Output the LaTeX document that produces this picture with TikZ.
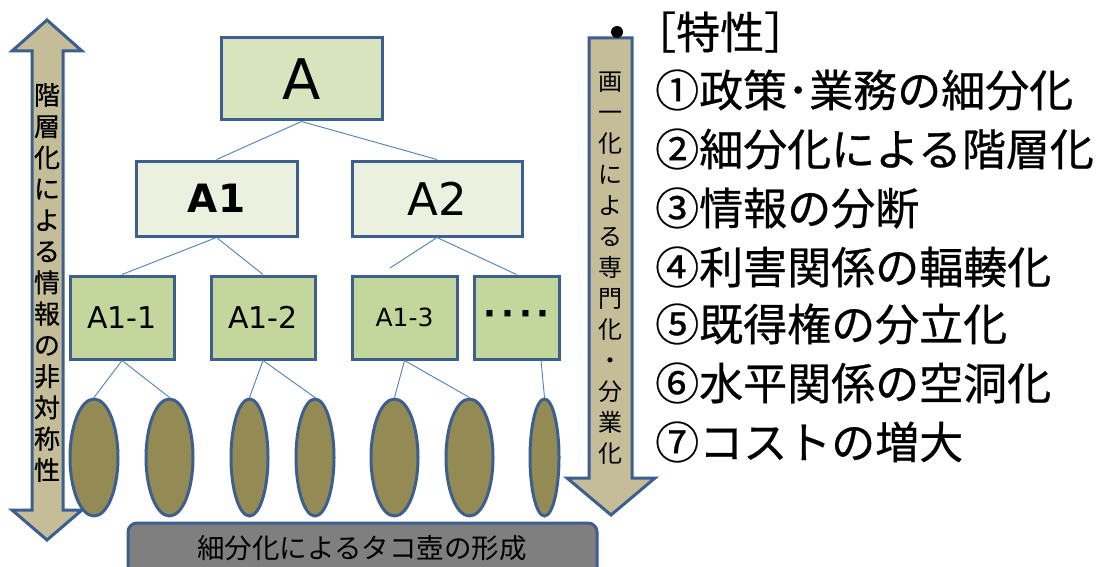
\documentclass[tikz,border=0pt]{standalone}
\usepackage{fontspec}
\setmainfont{DejaVu Sans}
\newfontfamily\jp{Noto Sans CJK JP}
\newfontfamily\jpb[FakeBold=0.6]{Noto Sans CJK JP}
\newfontfamily\lat{DejaVu Sans}
\usetikzlibrary{shapes.geometric,calc}
\definecolor{edgeblue}{HTML}{3D5F8F}
\definecolor{linkblue}{HTML}{4F81BD}
\definecolor{tan}{HTML}{C4BD97}
\definecolor{gA}{HTML}{D7E4BD}
\definecolor{gB}{HTML}{EBF1DE}
\definecolor{gC}{HTML}{C3D69B}
\definecolor{olive}{HTML}{948A54}
\definecolor{greybox}{HTML}{7F7F7F}
\tikzset{
  box/.style={draw=edgeblue, line width=3pt, rectangle, inner sep=0pt, text=black},
  pot/.style={draw=edgeblue, line width=3pt, fill=olive, ellipse, inner sep=0pt, minimum height=117pt},
  link/.style={draw=linkblue, line width=0.9pt},
  arrowshape/.style={draw=edgeblue, line width=3pt, fill=tan, line join=miter},
  vtext/.style={align=center, inner sep=0pt, text=black},
  listitem/.style={anchor=west, inner sep=0pt, font=\jpb\fontsize{44}{44}\selectfont, text=black}
}
\begin{document}
\begin{tikzpicture}[x=1pt,y=-1pt]
\useasboundingbox (0,0) rectangle (1102,567);
\fill[white] (0,0) rectangle (1102,567);
% left double arrow
\draw[arrowshape] (47,20) -- (82,51) -- (63,51) -- (63,510) -- (82,510) -- (47,540) -- (12,510) -- (32,510) -- (32,51) -- (12,51) -- cycle;
\node[vtext, font=\jpb\fontsize{26}{31.25}\selectfont] (lefttxt) at (47,282.5)
  {階\\層\\化\\に\\よ\\る\\情\\報\\の\\非\\対\\称\\性};
% right down arrow
\draw[arrowshape] (589,38) -- (632,38) -- (632,478) -- (655,478) -- (611,515) -- (567,478) -- (589,478) -- cycle;
\node[vtext, font=\jp\fontsize{24}{31}\selectfont] (righttxt) at (610.5,268.5)
  {画\\一\\化\\に\\よ\\る\\専\\門\\化\\・\\分\\業\\化};
% bullet
\fill[black] (617,32) circle (6);
% tree boxes
\node[box, fill=gA, minimum width=161pt, minimum height=82pt, font=\lat\fontsize{56}{56}\selectfont] (A) at (301.5,79) {A};
\node[box, fill=gB, minimum width=161pt, minimum height=75pt, font=\lat\bfseries\fontsize{39}{39}\selectfont] (A1) at (216.5,198.5) {A1};
\node[box, fill=gB, minimum width=170pt, minimum height=75pt, font=\lat\fontsize{45}{45}\selectfont] (A2) at (437,198.5) {A2};
\node[box, fill=gC, minimum width=104pt, minimum height=83pt, font=\lat\fontsize{30}{30}\selectfont] (A11) at (122,317.5) {A1-1};
\node[box, fill=gC, minimum width=104pt, minimum height=83pt, font=\lat\fontsize{30}{30}\selectfont] (A12) at (263,317.5) {A1-2};
\node[box, fill=gC, minimum width=105pt, minimum height=83pt, font=\lat\fontsize{25}{25}\selectfont] (A13) at (404.5,317.5) {A1-3};
\node[box, fill=gC, minimum width=85pt, minimum height=83pt, font=\lat\bfseries\fontsize{34}{34}\selectfont] (dots) at (516.5,317.5) {·\hspace{5pt}·\hspace{5pt}·\hspace{5pt}·};
% pots
\node[pot, minimum width=48pt] (e1) at (94,457.5) {};
\node[pot, minimum width=47pt] (e2) at (169.5,457.5) {};
\node[pot, minimum width=37pt] (e3) at (249.5,457.5) {};
\node[pot, minimum width=38pt] (e4) at (315,457.5) {};
\node[pot, minimum width=47pt] (e5) at (394.5,457.5) {};
\node[pot, minimum width=47pt] (e6) at (469.5,457.5) {};
\node[pot, minimum width=29pt] (e7) at (544.5,457.5) {};
% links
\coordinate (a2end) at (390,268);
\coordinate (dotsfoot) at ($(dots.south)+(24.5,0)$);
\draw[link] (A.south) -- (A1.north);
\draw[link] (A.south) -- (A2.north);
\draw[link] (A1.south) -- (A11.north);
\draw[link] (A1.south) -- (A12.north);
\draw[link] (A2.south) -- (a2end);
\draw[link] (A2.south) -- (dots.north);
\draw[link] (A11.south) -- (e1.north);
\draw[link] (A11.south) -- (e2.north);
\draw[link] (A12.south) -- (e3.north);
\draw[link] (A12.south) -- (e4.north);
\draw[link] (A13.south) -- (e5.north);
\draw[link] (A13.south) -- (e6.north);
\draw[link] (dotsfoot) -- (e7.north);
% bottom box
\draw[draw=edgeblue, line width=3pt, fill=greybox, rounded corners=9pt] (128,523) rectangle (597,590);
\node[inner sep=0pt, font=\jp\fontsize{27.5}{27.5}\selectfont, text=black] (pots) at (362,548) {細分化によるタコ壺の形成};
% list
\node[listitem] (head) at (632,32) {［特性］};
\node[listitem] (l1) at (655,90) {①政策･業務の細分化};
\node[listitem] (l2) at (655,149) {②細分化による階層化};
\node[listitem] (l3) at (655,208) {③情報の分断};
\node[listitem] (l4) at (655,267) {④利害関係の輻輳化};
\node[listitem] (l5) at (655,324) {⑤既得権の分立化};
\node[listitem] (l6) at (655,383) {⑥水平関係の空洞化};
\node[listitem] (l7) at (655,442) {⑦コストの増大};
\end{tikzpicture}
\end{document}
